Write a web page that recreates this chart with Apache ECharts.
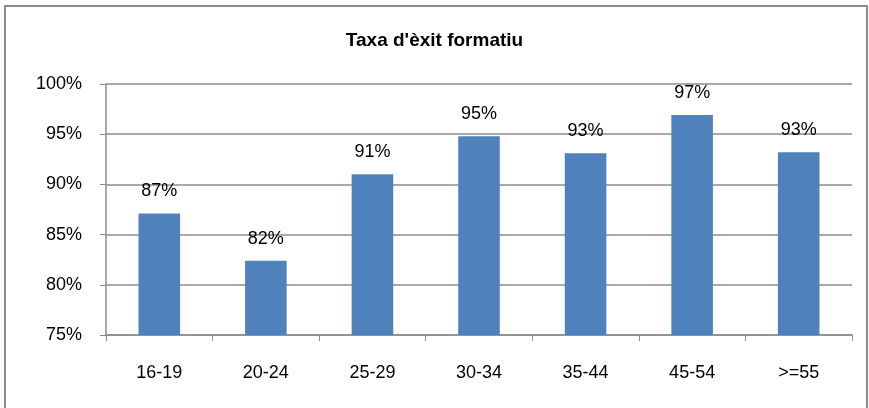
<!DOCTYPE html>
<html><head><meta charset="utf-8">
<script src="https://cdn.jsdelivr.net/npm/echarts@6/dist/echarts.min.js"></script>
<style>html,body{margin:0;padding:0;background:#fff}#c{width:869px;height:408px}</style>
</head><body><div id="c"></div>
<script>
const categories = ['16-19','20-24','25-29','30-34','35-44','45-54','>=55'];
const values = [87.1, 82.4, 91.0, 94.8, 93.1, 96.9, 93.2];
const yTicks = [75, 80, 85, 90, 95, 100];
const titleText = "Taxa d'èxit formatiu";
const FONT = 'Liberation Sans';
const chart = echarts.init(document.getElementById('c'), null, {renderer:'canvas'});
chart.setOption({
  animation:false,
  backgroundColor:'#fff',
  graphic:[{type:'rect', shape:{x:5,y:6,width:862,height:420}, style:{fill:'none', stroke:'#8a8a8a', lineWidth:2}, silent:true}],
  title:{text:titleText, left:'center', top:26, textStyle:{fontFamily:FONT, fontSize:19, fontWeight:'bold', color:'#000'}},
  grid:{left:106, right:17, top:84, bottom:73},
  xAxis:{type:'category', data:categories,
    axisLine:{lineStyle:{color:'#8c8c8c', width:1.5}},
    axisTick:{show:true, length:6, alignWithLabel:false, lineStyle:{color:'#8c8c8c'}},
    axisLabel:{fontFamily:FONT, fontSize:18, color:'#000', margin:29}},
  yAxis:{type:'value', min:yTicks[0], max:yTicks[yTicks.length-1], interval:5,
    axisLine:{show:true, lineStyle:{color:'#8c8c8c', width:1.5}},
    axisTick:{show:true, length:6, lineStyle:{color:'#8c8c8c'}},
    splitLine:{lineStyle:{color:'#8c8c8c', width:1.5}},
    axisLabel:{fontFamily:FONT, fontSize:18, color:'#000', margin:24, formatter:v=>v+'%'}},
  series:[{type:'bar', data:values, barWidth:'39%',
    itemStyle:{color:'#4F81BD'},
    label:{show:true, position:'top', distance:13, fontFamily:FONT, fontSize:18, color:'#000', formatter:p=>Math.round(p.value)+'%'}}]
});
</script></body></html>
